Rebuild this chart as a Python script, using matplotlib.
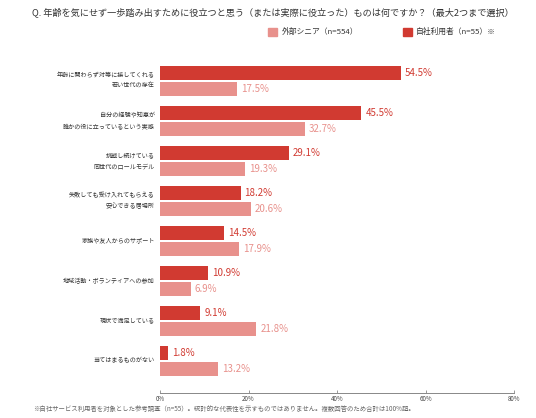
import numpy as np
import matplotlib
matplotlib.use("Agg")
import matplotlib.pyplot as plt
from matplotlib.patches import Rectangle

plt.rcParams['font.family'] = ['Noto Sans CJK JP', 'DejaVu Sans']

# データ
categories = [
	"年齢に関わらず対等に接してくれる\n若い世代の存在",
	"自分の経験や知恵が\n誰かの役に立っているという実感",
	"挑戦し続けている\n同世代のロールモデル",
	"失敗しても受け入れてもらえる\n安心できる居場所",
	"家族や友人からのサポート",
	"地域活動・ボランティアへの参加",
	"現状で満足している",
	"当てはまるものがない",
]
own_users = [54.5, 45.5, 29.1, 18.2, 14.5, 10.9, 9.1, 1.8]
ext_senior = [17.5, 32.7, 19.3, 20.6, 17.9, 6.9, 21.8, 13.2]
xticks = [0, 20, 40, 60, 80]

dark = "#D13A31"
light = "#E8918C"

fig = plt.figure(figsize=(5.36, 4.18), dpi=100)
ax = fig.add_axes([160/536, 1-392.7/418, 354/536, 332.7/418])

y = np.arange(len(categories))
ax.barh(y - 0.2, own_users, height=0.35, color=dark)
ax.barh(y + 0.2, ext_senior, height=0.35, color=light)

for i in range(len(categories)):
	ax.text(own_users[i] + 0.9, y[i] - 0.2, f"{own_users[i]:.1f}%", color=dark,
			fontsize=7, va='center', ha='left')
	ax.text(ext_senior[i] + 0.9, y[i] + 0.2, f"{ext_senior[i]:.1f}%", color=light,
			fontsize=7, va='center', ha='left')
	ax.text(-1.2, y[i], categories[i], ha='right', va='center', fontsize=4.4,
			color="#333333", linespacing=1.45)

ax.set_xlim(0, 80)
ax.set_ylim(7.8, -0.5175)
ax.set_yticks([])
ax.set_xticks(xticks)
ax.set_xticklabels([f"{t}%" for t in xticks], fontsize=4.5, color="#444444")
ax.tick_params(axis='x', direction='in', length=2.5, width=0.6, color="#888888", pad=2)
for s in ['top', 'right', 'left']:
	ax.spines[s].set_visible(False)
ax.spines['bottom'].set_color("#888888")
ax.spines['bottom'].set_linewidth(0.7)

# タイトル
fig.text(32/536, 1-12/418, "Q. 年齢を気にせず一歩踏み出すために役立つと思う（または実際に役立った）ものは何ですか？（最大2つまで選択）",
		 fontsize=6.6, color="#333333", va='center', ha='left')

# 凡例
fig.patches.append(Rectangle((268/536, 1-35.5/418), 9/536, 8/418, transform=fig.transFigure, color=light))
fig.text(282/536, 1-31.5/418, "外部シニア（n=554）", fontsize=5.6, color="#333333", va='center')
fig.patches.append(Rectangle((403/536, 1-35.5/418), 9/536, 8/418, transform=fig.transFigure, color=dark))
fig.text(416/536, 1-31.5/418, "自社利用者（n=55）※", fontsize=5.6, color="#333333", va='center')

# 注釈
fig.text(33/536, 1-408.5/418, "※自社サービス利用者を対象とした参考調査（n=55）。統計的な代表性を示すものではありません。複数回答のため合計は100%超。",
		 fontsize=4.6, color="#666666", va='center', ha='left')

fig.savefig("out.png", dpi=100)
